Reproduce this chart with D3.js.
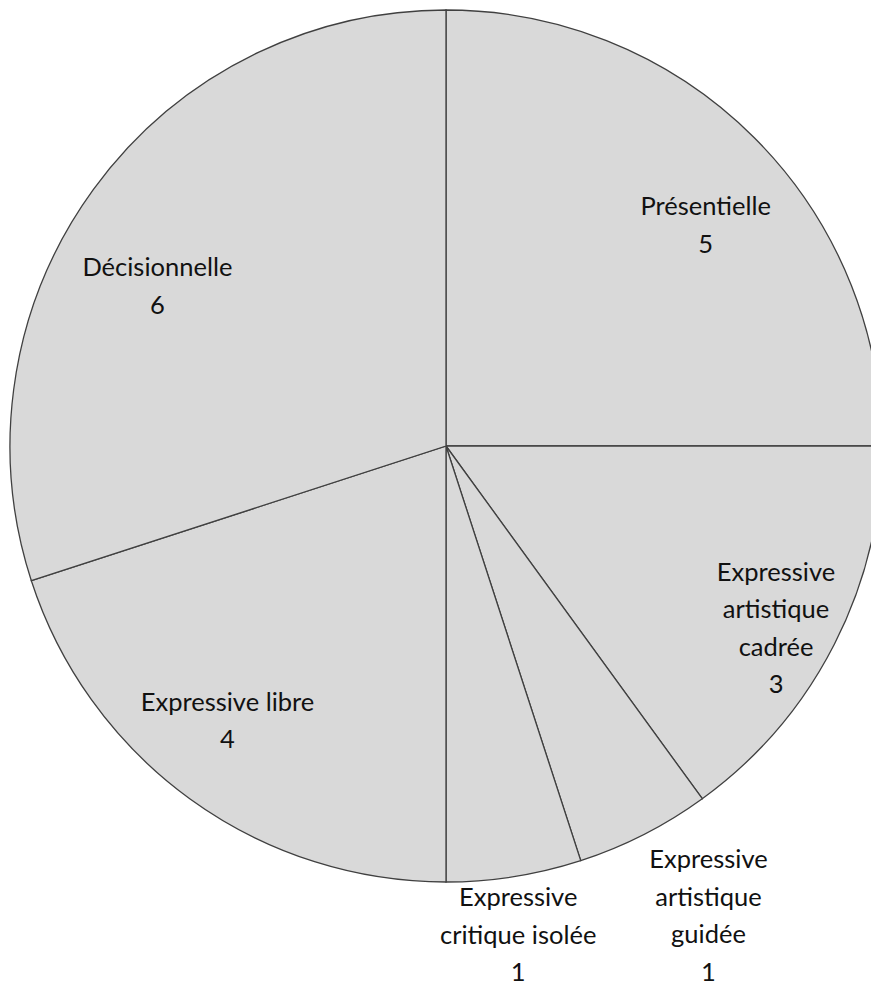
<!DOCTYPE html>
<html><head><meta charset="utf-8">
<script src="https://cdn.jsdelivr.net/npm/d3@7/dist/d3.min.js"></script>
<style>html,body{margin:0;padding:0;background:#fff;overflow:hidden}</style>
</head><body>
<svg id="c" width="871" height="985"></svg>
<script>
const categories = ["Présentielle","Expressive artistique cadrée","Expressive artistique guidée","Expressive critique isolée","Expressive libre","Décisionnelle"];
const values = [5,3,1,1,4,6];
const labelLines = [["Présentielle"],["Expressive","artistique","cadrée"],["Expressive","artistique","guidée"],["Expressive","critique isolée"],["Expressive libre"],["Décisionnelle"]];
// label placement: angle (deg, clockwise from top) and distance from centre
const labelAngle = [49.6,118.9,150.8,171.6,218.5,299];
const labelDist = [341,377,538,494,351,330];

const cx=446, cy=446, R=436;
const svg=d3.select("#c");
const g=svg.append("g").attr("transform",`translate(${cx},${cy})`);
const data=categories.map((c,i)=>({cat:c,value:values[i],lines:labelLines[i].concat([String(values[i])]),la:labelAngle[i],ld:labelDist[i]}));
const pie=d3.pie().value(d=>d.value).sort(null);
const arc=d3.arc().innerRadius(0).outerRadius(R);
g.selectAll("path").data(pie(data)).join("path")
 .attr("d",arc).attr("fill","#d9d9d9").attr("stroke","#404040").attr("stroke-width",1.3);
const lh=37.5;
const lab=g.selectAll("text").data(data).join("text")
 .attr("font-family","Lato, 'Open Sans', sans-serif").attr("font-size",25.5)
 .attr("fill","#111").attr("text-anchor","middle");
lab.each(function(d){
  const a=d.la*Math.PI/180;
  const x=Math.sin(a)*d.ld, y=-Math.cos(a)*d.ld;
  const n=d.lines.length;
  d3.select(this).selectAll("tspan").data(d.lines).join("tspan")
   .attr("x",x).attr("y",(l,i)=>y+(i-(n-1)/2)*lh).attr("dy","0.35em").text(l=>l);
});
</script>
</body></html>
